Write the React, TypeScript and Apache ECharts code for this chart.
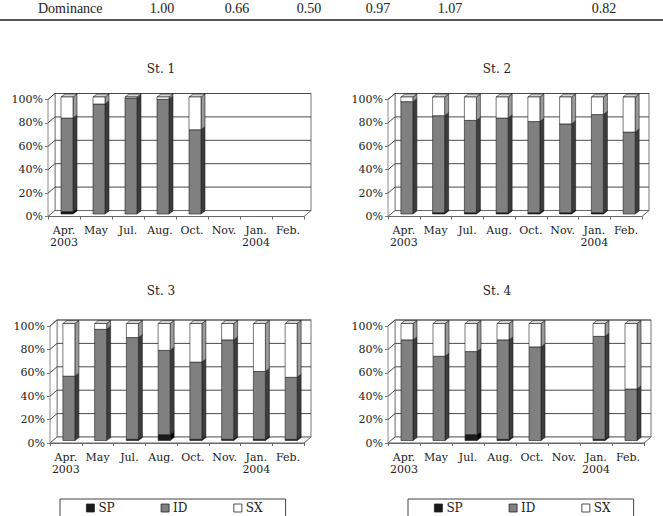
import React, { useEffect, useRef } from "react";
import * as echarts from "echarts";

// ---------- data ----------
const categories = ["Apr.\n2003", "May", "Jul.", "Aug.", "Oct.", "Nov.", "Jan.\n2004", "Feb."];
const seriesNames = ["SP", "ID", "SX"];
const stationNames = ["St. 1", "St. 2", "St. 3", "St. 4"];
const yTicks = [0, 20, 40, 60, 80, 100];

const st1SP = [2, 0, 0, 0, 0, null, null, null];
const st1ID = [80, 94, 99, 98, 72, null, null, null];
const st1SX = [18, 6, 1, 2, 28, null, null, null];

const st2SP = [0, 1, 1, 1, 1, 1, 1, 0];
const st2ID = [96, 83, 79, 81, 78, 76, 84, 70];
const st2SX = [4, 16, 20, 18, 21, 23, 15, 30];

const st3SP = [0, 0, 1, 5, 1, 1, 1, 1];
const st3ID = [55, 95, 87, 72, 66, 85, 58, 53];
const st3SX = [45, 5, 12, 23, 33, 14, 41, 46];

const st4SP = [0, 0, 5, 1, 0, null, 1, 0];
const st4ID = [86, 72, 71, 85, 80, null, 88, 44];
const st4SX = [14, 28, 24, 14, 20, null, 11, 56];

const dominanceLabel = "Dominance";
const dominanceValues = ["1.00", "0.66", "0.50", "0.97", "1.07", "", "0.82"];

// ---------- layout / style ----------
const SERIF = "DejaVu Serif";
const TABLE_FONT = '14px "Liberation Serif"';
const stations = [
  [st1SP, st1ID, st1SX],
  [st2SP, st2ID, st2SX],
  [st3SP, st3ID, st3SX],
  [st4SP, st4ID, st4SX],
];
const GRIDS = [
  { left: 48, top: 99.5, width: 256, height: 117 },
  { left: 388, top: 99.5, width: 254, height: 117 },
  { left: 50, top: 326, width: 254, height: 117 },
  { left: 388, top: 326, width: 256, height: 117 },
];
const TITLE_POS = [
  [161, 69],
  [497, 69],
  [161, 291],
  [497, 291],
];
const DOM_COL_X = [162, 237, 309, 378, 450, 527, 604];
const FACES = [
  { front: "#1a1a1a", side: "#000000", top: "#444444" },
  { front: "#808080", side: "#3c3c3c", top: "#a8a8a8" },
  { front: "#ffffff", side: "#9a9a9a", top: "#d4d4d4" },
];
const WALL_DX = 7;
const WALL_DY = 6;
const BAR_OX = 3;
const BAR_OY = 2.5;
const BAR_W = 12;
const BAR_DX = 4;
const BAR_DY = 3;

function barRenderer(face: { front: string; side: string; top: string }) {
  return (params: any, api: any) => {
    const c = api.value(0);
    const a = api.value(1);
    const b = api.value(2);
    if (!(b > a)) return { type: "group", children: [] };
    const p0 = api.coord([c, a]);
    const p1 = api.coord([c, b]);
    const cx = p0[0] + BAR_OX;
    const yb = p0[1] - BAR_OY;
    const yt = p1[1] - BAR_OY;
    const l = cx - BAR_W / 2;
    const r = cx + BAR_W / 2;
    const st = { stroke: "#1e1e1e", lineWidth: 0.6 };
    return {
      type: "group",
      children: [
        {
          type: "polygon",
          shape: { points: [[r, yb], [r + BAR_DX, yb - BAR_DY], [r + BAR_DX, yt - BAR_DY], [r, yt]] },
          style: { fill: face.side, ...st },
        },
        {
          type: "polygon",
          shape: { points: [[l, yt], [l + BAR_DX, yt - BAR_DY], [r + BAR_DX, yt - BAR_DY], [r, yt]] },
          style: { fill: face.top, ...st },
        },
        {
          type: "rect",
          shape: { x: l, y: yt, width: BAR_W, height: yb - yt },
          style: { fill: face.front, ...st },
        },
      ],
    };
  };
}

function wallRenderer(params: any, api: any) {
  const cs = params.coordSys;
  const L = cs.x;
  const R = cs.x + cs.width;
  const yB = api.coord([0, yTicks[0]])[1];
  const yT = api.coord([0, yTicks[yTicks.length - 1]])[1];
  const children: any[] = [
    {
      type: "polygon",
      shape: { points: [[L + WALL_DX, yT - WALL_DY], [R + WALL_DX, yT - WALL_DY], [R + WALL_DX, yB - WALL_DY], [L + WALL_DX, yB - WALL_DY]] },
      style: { fill: "#fff", stroke: "#8a8a8a", lineWidth: 1.2 },
    },
    {
      type: "polygon",
      shape: { points: [[L, yB], [L + WALL_DX, yB - WALL_DY], [L + WALL_DX, yT - WALL_DY], [L, yT]] },
      style: { fill: "#fff", stroke: "#8a8a8a", lineWidth: 1 },
    },
    {
      type: "polygon",
      shape: { points: [[L, yB], [R, yB], [R + WALL_DX, yB - WALL_DY], [L + WALL_DX, yB - WALL_DY]] },
      style: { fill: "#fff", stroke: "#666", lineWidth: 1 },
    },
  ];
  yTicks.forEach((t) => {
    if (t === yTicks[0]) return;
    const y = api.coord([0, t])[1];
    children.push({
      type: "polyline",
      shape: { points: [[L, y], [L + WALL_DX, y - WALL_DY], [R + WALL_DX, y - WALL_DY]] },
      style: { fill: null, stroke: "#4a4a4a", lineWidth: 1 },
    });
  });
  return { type: "group", children };
}

function buildOption() {
  const grid: any[] = [];
  const xAxis: any[] = [];
  const yAxis: any[] = [];
  const series: any[] = [];
  stations.forEach((st, gi) => {
    grid.push({ ...GRIDS[gi], containLabel: false });
    xAxis.push({
      type: "category",
      gridIndex: gi,
      data: categories,
      boundaryGap: true,
      axisLine: { show: true, lineStyle: { color: "#666", width: 1 } },
      axisTick: { show: true, length: 3, lineStyle: { color: "#666" } },
      axisLabel: { interval: 0, margin: 8, fontFamily: SERIF, fontSize: 11, lineHeight: 12, color: "#222" },
      splitLine: { show: false },
    });
    yAxis.push({
      type: "value",
      gridIndex: gi,
      min: 0,
      max: 100,
      interval: 20,
      axisLine: { show: true, lineStyle: { color: "#777", width: 1 } },
      axisTick: { show: true, length: 3, lineStyle: { color: "#777" } },
      axisLabel: { formatter: "{value}%", margin: 5, fontFamily: SERIF, fontSize: 11, color: "#222" },
      splitLine: { show: false },
    });
    series.push({
      type: "custom",
      name: "wall",
      xAxisIndex: gi,
      yAxisIndex: gi,
      clip: false,
      silent: true,
      renderItem: wallRenderer,
      data: [[0, 0, 100]],
      encode: { x: 0, y: [1, 2] },
      z: 1,
    });
    const base: number[] = categories.map(() => 0);
    st.forEach((vals, si) => {
      const data = vals.map((v, ci) => {
        if (v === null) return [ci, 0, 0];
        const start = base[ci];
        base[ci] += v as number;
        return [ci, start, base[ci]];
      });
      series.push({
        type: "custom",
        name: seriesNames[si],
        xAxisIndex: gi,
        yAxisIndex: gi,
        clip: false,
        renderItem: barRenderer(FACES[si]),
        itemStyle: { color: FACES[si].front, borderColor: "#222", borderWidth: 0.8 },
        data,
        encode: { x: 0, y: [1, 2] },
        z: 3,
      });
    });
  });

  const legendCommon = {
    top: 499,
    orient: "horizontal",
    data: seriesNames,
    icon: "rect",
    itemWidth: 8,
    itemHeight: 8,
    itemGap: 46,
    padding: [3, 23, 14, 26],
    borderColor: "#444",
    borderWidth: 1,
    selectedMode: false,
    itemStyle: { borderColor: "#222", borderWidth: 0.8 },
    textStyle: { fontFamily: SERIF, fontSize: 12, color: "#222", padding: [0, 0, 0, -1] },
  };

  const graphic: any[] = [
    {
      type: "text",
      x: 38,
      y: 8,
      style: { text: dominanceLabel, font: TABLE_FONT, fill: "#222", textAlign: "left", verticalAlign: "middle" },
    },
    {
      type: "line",
      shape: { x1: 0, y1: 20, x2: 663, y2: 20 },
      style: { stroke: "#555", lineWidth: 2 },
    },
  ];
  dominanceValues.forEach((v, i) => {
    if (!v) return;
    graphic.push({
      type: "text",
      x: DOM_COL_X[i],
      y: 8,
      style: { text: v, font: TABLE_FONT, fill: "#222", textAlign: "center", verticalAlign: "middle" },
    });
  });
  stationNames.forEach((n, i) => {
    graphic.push({
      type: "text",
      x: TITLE_POS[i][0],
      y: TITLE_POS[i][1],
      style: { text: n, font: `12px "${SERIF}"`, fill: "#222", textAlign: "center", verticalAlign: "middle" },
    });
  });

  return {
    animation: false,
    backgroundColor: "#ffffff",
    grid,
    xAxis,
    yAxis,
    series,
    legend: [
      { ...legendCommon, left: 60 },
      { ...legendCommon, left: 408 },
    ],
    graphic,
  };
}

export default function App() {
  const ref = useRef<HTMLDivElement>(null);
  useEffect(() => {
    if (!ref.current) return;
    const chart = echarts.init(ref.current, null, { renderer: "svg" });
    chart.setOption(buildOption() as any);
    return () => chart.dispose();
  }, []);
  return (
    <div
      ref={ref}
      style={{ position: "absolute", left: 0, top: 0, width: 663, height: 516, background: "#fff" }}
    />
  );
}
